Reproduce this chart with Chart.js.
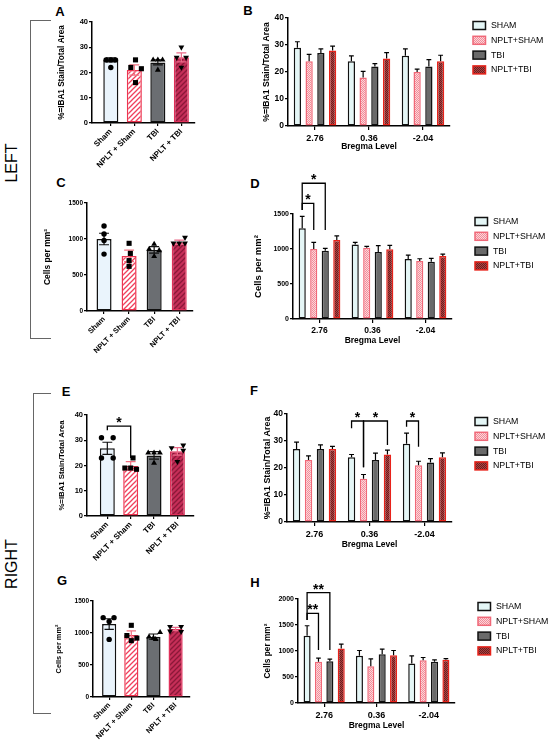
<!DOCTYPE html>
<html>
<head>
<meta charset="utf-8">
<script src="https://cdn.jsdelivr.net/npm/chart.js@4.4.1/dist/chart.umd.min.js"></script>
<style>
body { margin: 0; background: #fff; }
#fig { position: relative; width: 550px; height: 744px; overflow: hidden; font-family: 'Liberation Sans', Arial, sans-serif; color: #000; }
canvas { position: absolute; }
.lt { position: absolute; font-weight: bold; font-size: 13px; line-height: 13px; transform: translate(-50%, -50%); }
.side { position: absolute; font-size: 16px; line-height: 16px; white-space: nowrap; transform: translate(-50%, -50%) rotate(-90deg); }
.br { position: absolute; border: 1px solid #666; border-right: none; }
</style>
</head>
<body>
<div id="fig">
  <div class="br" style="left:30px;top:20px;width:20px;height:317px"></div>
  <div class="br" style="left:33px;top:393px;width:17px;height:319px"></div>
  <div class="side" style="left:12px;top:163px">LEFT</div>
  <div class="side" style="left:12px;top:564px">RIGHT</div>
  <div class="lt" style="left:60px;top:11px">A</div>
  <div class="lt" style="left:248px;top:10px">B</div>
  <div class="lt" style="left:61px;top:182px">C</div>
  <div class="lt" style="left:255px;top:183px">D</div>
  <div class="lt" style="left:66px;top:391px">E</div>
  <div class="lt" style="left:254px;top:390px">F</div>
  <div class="lt" style="left:62px;top:580px">G</div>
  <div class="lt" style="left:255px;top:582px">H</div>
  <canvas id="cA"></canvas>
  <canvas id="cB"></canvas>
  <canvas id="cC"></canvas>
  <canvas id="cD"></canvas>
  <canvas id="cE"></canvas>
  <canvas id="cF"></canvas>
  <canvas id="cG"></canvas>
  <canvas id="cH"></canvas>
</div>
<script>
// categories
const groupsA = ['Sham', 'NPLT + Sham', 'TBI', 'NPLT + TBI'];
const groupsB = ['SHAM', 'NPLT+SHAM', 'TBI', 'NPLT+TBI'];
const bregma = ['2.76', '0.36', '-2.04'];

// A - left IBA1
const aMean = [25, 21, 24, 26];
const aSem = [0.8, 2, 1, 1.8];
const aPts = [[25, 25, 25, 22], [25, 22, 21.5, 16], [25, 25, 25, 21], [30, 26, 26, 22]];
const aJit = [[-0.2, 0, 0.2, 0], [0.05, -0.15, 0.3, 0.05], [-0.2, 0, 0.2, 0], [0, -0.2, 0.2, 0]];

// C - left cells
const cMean = [1000, 765, 848, 955];
const cSem = [80, 80, 45, 30];
const cPts = [[1180, 1070, 980, 790], [940, 800, 700, 620], [930, 860, 840, 760], [1020, 940, 940, 940]];
const cJit = [[0, 0, 0, 0], [0, 0.05, 0, 0], [0, -0.2, 0.2, 0], [0.23, -0.23, 0, 0.23]];

// E - right IBA1
const eMean = [26.8, 19.8, 24, 25.6];
const eSem = [2.4, 1.7, 1.5, 1.5];
const ePts = [[31, 31, 23, 23], [23, 19, 19, 18.5], [25, 25, 25, 21], [27, 28, 26, 21.5]];
const eJit = [[-0.25, 0.25, -0.25, 0.25], [0.1, -0.25, 0, 0.25], [-0.25, 0, 0.25, 0], [-0.25, 0.25, 0.25, 0]];
const eSig = [{ a: [0, 0], b: [0, 1], top: 35.6, la: 34, lb: 23, text: '*' }];

// G - right cells
const gMean = [1140, 970, 943, 1063];
const gSem = [83, 62, 41, 26];
const gPts = [[1240, 1240, 1180, 900], [1120, 960, 920, 880], [1010, 940, 920, 900], [1100, 1100, 1030, 1020]];
const gJit = [[-0.27, 0.22, 0, 0], [0, -0.2, 0.25, 0], [0.3, -0.2, 0, 0.1], [-0.25, 0.25, -0.25, 0.25]];

// B - left IBA1 by bregma level (rows: SHAM, NPLT+SHAM, TBI, NPLT+TBI)
const bMean = [[29, 24, 26], [24, 18, 20], [27, 22, 22], [28, 25, 24]];
const bSem = [[2.2, 2, 2.6], [2.5, 2.2, 1.1], [1.6, 1.1, 2.6], [1.6, 2.2, 2.2]];

// D - left cells by bregma level
const dMean = [[1298, 1063, 856], [1000, 1019, 827], [976, 957, 817], [1130, 995, 899]];
const dSem = [[168, 33, 57], [96, 19, 34], [34, 91, 48], [58, 58, 29]];
const dSig = [
  { a: [0, 0], b: [1, 0], top: 1653, la: 1557, lb: 1271, text: '*' },
  { a: [0, 0], b: [2, 0], top: 1939, la: 1557, lb: 1271, text: '*' }
];

// F - right IBA1 by bregma level
const fMean = [[27, 24, 29], [23, 16, 21], [27, 23, 22], [27, 25, 24]];
const fSem = [[2.6, 1, 3.9], [1.5, 1.6, 1.5], [1.6, 2.5, 1.5], [1, 1.6, 1.6]];
const fSig = [
  { a: [0, 1], b: [1, 1], top: 37.4, la: 34.7, lb: 20.3, text: '*' },
  { a: [1, 1], b: [3, 1], top: 37.4, la: 20.3, lb: 28.5, text: '*' },
  { a: [0, 2], b: [1, 2], top: 37.4, la: 35.3, lb: 27.9, text: '*' }
];

// H - right cells by bregma level
const hMean = [[1293, 907, 759], [791, 707, 823], [804, 939, 791], [1048, 920, 830]];
const hSem = [[193, 103, 148], [71, 142, 52], [38, 96, 39], [84, 90, 25]];
const hSig = [
  { a: [0, 0], b: [1, 0], top: 1724, la: 1596, lb: 1019, text: '**' },
  { a: [0, 0], b: [2, 0], top: 2121, la: 1596, lb: 1019, text: '**' }
];

const FAMILY = "'Liberation Sans', Arial, sans-serif";
Chart.defaults.font.family = FAMILY;
Chart.defaults.color = '#000';

function stripes(bg, fg, w) {
  const c = document.createElement('canvas');
  c.width = c.height = 5;
  const g = c.getContext('2d');
  g.fillStyle = bg; g.fillRect(0, 0, 5, 5);
  g.strokeStyle = fg; g.lineWidth = w;
  g.beginPath();
  g.moveTo(-1, 6); g.lineTo(6, -1);
  g.moveTo(-1, 1); g.lineTo(1, -1);
  g.moveTo(4, 6); g.lineTo(6, 4);
  g.stroke();
  return g.createPattern(c, 'repeat');
}
function checker(a, b) {
  const c = document.createElement('canvas');
  c.width = c.height = 2;
  const g = c.getContext('2d');
  g.fillStyle = a; g.fillRect(0, 0, 2, 2);
  g.fillStyle = b; g.fillRect(0, 0, 1, 1); g.fillRect(1, 1, 1, 1);
  return g.createPattern(c, 'repeat');
}

const STY_A = {
  fill: ['#eaf4fc', stripes('#ffffff', '#f0405c', 1.3), '#6b6e72', stripes('#c52e58', '#8a1838', 1.3)],
  line: ['#111111', '#ec3550', '#111111', '#e0305a'],
  err: ['#111111', '#f07080', '#111111', '#ea6a88']
};
const STY_B = {
  fill: ['#e4f6f6', checker('#f28c98', '#fbd6da'), '#6a6a6a', checker('#6e1c1c', '#a84444')],
  line: ['#111111', '#f06878', '#111111', '#e8221a'],
  err: ['#333333', '#f07080', '#333333', '#f03030']
};
const MARKS = [
  { style: 'circle', rot: 0, r: 2.7 },
  { style: 'rect', rot: 0, r: 3.6 },
  { style: 'triangle', rot: 0, r: 3.4 },
  { style: 'triangle', rot: 180, r: 3.4 }
];

// error bars drawn right after each bar dataset
const errPlugin = {
  id: 'errbars',
  afterDatasetDraw(chart, args, opts) {
    const ds = chart.data.datasets[args.index];
    if (!ds.sem) return;
    const meta = args.meta, y = chart.scales.y, ctx = chart.ctx;
    ctx.save();
    ctx.lineWidth = 1.2;
    meta.data.forEach((bar, i) => {
      const v = meta.controller.getParsed(i).y, e = ds.sem[i];
      const top = y.getPixelForValue(v + e);
      const bot = opts.both ? y.getPixelForValue(v - e) : bar.y;
      const half = bar.width * 0.33;
      ctx.strokeStyle = ds.errColor[i] || ds.errColor;
      ctx.beginPath();
      ctx.moveTo(bar.x, top); ctx.lineTo(bar.x, bot);
      ctx.moveTo(bar.x - half, top); ctx.lineTo(bar.x + half, top);
      if (opts.both) { ctx.moveTo(bar.x - half, bot); ctx.lineTo(bar.x + half, bot); }
      ctx.stroke();
    });
    ctx.restore();
  }
};

// significance brackets
const sigPlugin = {
  id: 'sig',
  afterDraw(chart, args, opts) {
    if (!opts.list || !opts.list.length) return;
    const y = chart.scales.y, ctx = chart.ctx;
    ctx.save();
    ctx.strokeStyle = '#000'; ctx.fillStyle = '#000'; ctx.lineWidth = 1.3;
    ctx.font = 'bold 14px ' + FAMILY;
    ctx.textAlign = 'center'; ctx.textBaseline = 'alphabetic';
    opts.list.forEach(s => {
      const xa = chart.getDatasetMeta(s.a[0]).data[s.a[1]].x;
      const xb = chart.getDatasetMeta(s.b[0]).data[s.b[1]].x;
      const yt = y.getPixelForValue(s.top);
      ctx.beginPath();
      ctx.moveTo(xa, y.getPixelForValue(s.la));
      ctx.lineTo(xa, yt); ctx.lineTo(xb, yt);
      ctx.lineTo(xb, y.getPixelForValue(s.lb));
      ctx.stroke();
      ctx.fillText(s.text, (xa + xb) / 2, yt + 1);
    });
    ctx.restore();
  }
};

// legend to the right of grouped panels
const keyPlugin = {
  id: 'key',
  afterDraw(chart, args, opts) {
    if (!opts.show) return;
    const a = chart.chartArea, ctx = chart.ctx;
    ctx.save();
    ctx.font = opts.size + 'px ' + FAMILY;
    ctx.textBaseline = 'middle'; ctx.textAlign = 'left';
    chart.data.datasets.forEach((ds, i) => {
      const x = a.right + 23, yc = a.top + 7.5 + i * 14.8;
      ctx.fillStyle = ds.backgroundColor;
      ctx.fillRect(x, yc - 4, 12.5, 8);
      ctx.strokeStyle = ds.borderColor; ctx.lineWidth = 1.5;
      ctx.strokeRect(x, yc - 4, 12.5, 8);
      ctx.fillStyle = '#000';
      ctx.fillText(ds.label, x + 18, yc);
    });
    ctx.restore();
  }
};
Chart.register(errPlugin, sigPlugin, keyPlugin);

function setup(id, box) {
  const c = document.getElementById(id);
  c.width = box[2]; c.height = box[3];
  c.style.left = box[0] + 'px'; c.style.top = box[1] + 'px';
  return c;
}
function frame(box, area, xH) {
  return {
    yW: area[0] - box[0],
    padding: { left: 0, top: area[1] - box[1], right: box[0] + box[2] - area[2], bottom: box[1] + box[3] - area[3] - xH }
  };
}
function yAxis(o, yW) {
  return {
    min: 0, max: o.ymax,
    afterFit: s => { s.width = yW; s.paddingTop = 0; s.paddingBottom = 0; },
    ticks: { stepSize: o.ystep, padding: 1, font: { size: o.tick, weight: 'bold' }, callback: v => String(v) },
    grid: { drawOnChartArea: false, tickLength: 3, color: '#000', lineWidth: 1.2 },
    border: { color: '#000', width: 1.5 },
    title: { display: true, text: o.ytitle, padding: 0, font: { size: o.title, weight: 'bold' } }
  };
}
function xFit(h) {
  return s => { s.height = h; s.paddingLeft = 0; s.paddingRight = 0; };
}

function scatterPanel(id, box, area, o) {
  const c = setup(id, box);
  const f = frame(box, area, o.xH);
  const datasets = [{
    type: 'bar', order: 2, label: 'mean',
    data: o.means.map((v, i) => ({ x: i, y: v })),
    backgroundColor: STY_A.fill, borderColor: STY_A.line, borderWidth: 1.5, borderSkipped: false,
    categoryPercentage: 1, barPercentage: o.barPct,
    sem: o.sem, errColor: STY_A.err
  }].concat(o.pts.map((arr, g) => ({
    type: 'scatter', order: 1, label: groupsA[g],
    data: arr.map((v, k) => ({ x: g + o.jit[g][k], y: v })),
    pointStyle: MARKS[g].style, pointRotation: MARKS[g].rot, pointRadius: MARKS[g].r,
    pointBackgroundColor: '#000', pointBorderColor: '#000', pointBorderWidth: 0
  })));
  return new Chart(c, {
    type: 'bar',
    data: { datasets },
    options: {
      responsive: false, animation: false,
      layout: { padding: f.padding },
      plugins: { legend: { display: false }, tooltip: { enabled: false }, errbars: { both: true }, sig: { list: o.sig || [] }, key: { show: false } },
      scales: {
        x: {
          type: 'linear', min: o.xmin, max: o.xmax, offset: false,
          afterFit: xFit(o.xH),
          afterBuildTicks: s => { s.ticks = groupsA.map((g, i) => ({ value: i })); },
          grid: { offset: false, drawOnChartArea: false, tickLength: 3, color: '#000', lineWidth: 1.2 },
          border: { color: '#000', width: 1.5 },
          ticks: { minRotation: 45, maxRotation: 45, padding: 1, font: { size: o.cat, weight: 'bold' }, callback: v => groupsA[v] }
        },
        y: yAxis(o, f.yW)
      }
    }
  });
}

function groupPanel(id, box, area, o) {
  const c = setup(id, box);
  const f = frame(box, area, o.xH);
  const datasets = groupsB.map((g, i) => ({
    label: g, data: o.means[i], sem: o.sem[i],
    backgroundColor: STY_B.fill[i], borderColor: STY_B.line[i], errColor: STY_B.err[i],
    borderWidth: 1.5, borderSkipped: false, categoryPercentage: 0.87, barPercentage: 0.62
  }));
  return new Chart(c, {
    type: 'bar',
    data: { labels: bregma, datasets },
    options: {
      responsive: false, animation: false,
      layout: { padding: f.padding },
      plugins: { legend: { display: false }, tooltip: { enabled: false }, errbars: { both: false }, sig: { list: o.sig || [] }, key: { show: true, size: 8.8 } },
      scales: {
        x: {
          afterFit: xFit(o.xH),
          grid: { offset: false, drawOnChartArea: false, tickLength: 4, color: '#000', lineWidth: 1.2 },
          border: { color: '#000', width: 1.5 },
          ticks: { padding: 3, maxRotation: 0, font: { size: o.cat, weight: 'bold' } },
          title: { display: true, text: 'Bregma Level', padding: 0, font: { size: 8.5, weight: 'bold' } }
        },
        y: yAxis(o, f.yW)
      }
    }
  });
}

scatterPanel('cA', [57, 0, 148, 173], [92, 22, 195, 123], {
  means: aMean, sem: aSem, pts: aPts, jit: aJit, xmin: -0.8, xmax: 3.58, barPct: 0.64,
  ymax: 40, ystep: 10, ytitle: '%=IBA1 Stain/Total Area', tick: 7.5, title: 8.2, cat: 8, xH: 50
});
scatterPanel('cC', [43, 175, 160, 188], [87, 203, 193, 311], {
  means: cMean, sem: cSem, pts: cPts, jit: cJit, xmin: -0.68, xmax: 3.55, barPct: 0.6,
  ymax: 1500, ystep: 500, ytitle: 'Cells per mm²', tick: 6.5, title: 8.5, cat: 7.5, xH: 52
});
scatterPanel('cE', [57, 395, 147, 171], [87, 415, 194, 516], {
  means: eMean, sem: eSem, pts: ePts, jit: eJit, xmin: -0.87, xmax: 3.71, barPct: 0.64, sig: eSig,
  ymax: 40, ystep: 10, ytitle: '%=IBA1 Stain/Total Area', tick: 7.5, title: 7.8, cat: 8, xH: 50
});
scatterPanel('cG', [55, 575, 145, 172], [93, 601, 190, 697], {
  means: gMean, sem: gSem, pts: gPts, jit: gJit, xmin: -0.73, xmax: 3.65, barPct: 0.64,
  ymax: 1500, ystep: 500, ytitle: 'Cells per mm²', tick: 6.5, title: 7.4, cat: 7.5, xH: 50
});

groupPanel('cB', [261, 0, 289, 156], [288, 18, 450, 126], {
  means: bMean, sem: bSem, ymax: 40, ystep: 10, ytitle: '%=IBA1 Stain/Total Area', tick: 8.5, title: 8.6, cat: 9, xH: 26
});
groupPanel('cD', [253, 150, 297, 200], [293, 214, 452, 319], {
  means: dMean, sem: dSem, sig: dSig, ymax: 1500, ystep: 500, ytitle: 'Cells per mm²', tick: 7, title: 9.5, cat: 8.5, xH: 27
});
groupPanel('cF', [262, 385, 288, 169], [287, 414, 452, 522], {
  means: fMean, sem: fSem, sig: fSig, ymax: 40, ystep: 10, ytitle: '%=IBA1 Stain/Total Area', tick: 8.5, title: 8.9, cat: 9, xH: 28
});
groupPanel('cH', [263, 570, 287, 165], [298, 599, 455, 703], {
  means: hMean, sem: hSem, sig: hSig, ymax: 2000, ystep: 500, ytitle: 'Cells per mm²', tick: 7, title: 8.3, cat: 9, xH: 28
});
</script>
</body>
</html>
